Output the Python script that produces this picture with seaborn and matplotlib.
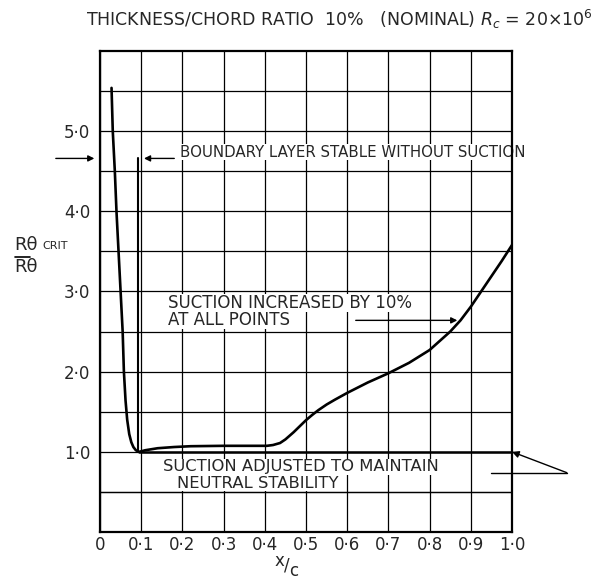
import matplotlib
matplotlib.use("Agg")
import matplotlib.pyplot as plt
import seaborn as sns
import pandas as pd

# ---- data ----
curve_x = [0.028, 0.031, 0.036, 0.040, 0.045, 0.050, 0.055, 0.058, 0.062, 0.066, 0.071, 0.076,
           0.081, 0.087, 0.095,
           0.11, 0.14, 0.18, 0.22, 0.30, 0.37, 0.405, 0.42, 0.437, 0.45, 0.47, 0.485, 0.50,
           0.515, 0.53, 0.55, 0.57, 0.60, 0.65, 0.70, 0.75, 0.80, 0.85, 0.875, 0.90, 0.925,
           0.95, 0.975, 1.00]
curve_y = [5.54, 5.0, 4.5, 4.0, 3.5, 3.0, 2.5, 2.0, 1.64, 1.40, 1.22, 1.12,
           1.06, 1.02, 1.00,
           1.02, 1.045, 1.06, 1.07, 1.075, 1.075, 1.075, 1.085, 1.11, 1.155, 1.245, 1.32, 1.395,
           1.46, 1.52, 1.59, 1.65, 1.735, 1.865, 1.98, 2.11, 2.27, 2.50, 2.64, 2.81, 3.00,
           3.19, 3.38, 3.58]
neutral_x = [0.095, 1.0]
neutral_y = [1.0, 1.0]
stable_x = [0.092, 0.092]
stable_y = [1.0, 4.66]

x_ticks = [0, 0.1, 0.2, 0.3, 0.4, 0.5, 0.6, 0.7, 0.8, 0.9, 1.0]
x_tick_labels = ["0", "0·1", "0·2", "0·3", "0·4", "0·5", "0·6", "0·7", "0·8", "0·9", "1·0"]
y_ticks = [1, 2, 3, 4, 5]
y_tick_labels = ["1·0", "2·0", "3·0", "4·0", "5·0"]

title = "THICKNESS/CHORD RATIO  10%   (NOMINAL) $R_c$ = 20×10$^6$"

sns.set_style("white")
plt.rcParams['font.family'] = ['DejaVu Sans']

fig = plt.figure(figsize=(5.95, 5.80), dpi=100)
ax = fig.add_axes([100/595, 1 - 532/580, 412/595, 481/580])

df = pd.DataFrame({"x": curve_x, "y": curve_y})
sns.lineplot(data=df, x="x", y="y", ax=ax, color="black", lw=1.9, sort=False, estimator=None, zorder=4)
sns.lineplot(x=neutral_x, y=neutral_y, ax=ax, color="black", lw=1.8, estimator=None, zorder=4)
sns.lineplot(x=stable_x, y=stable_y, ax=ax, color="black", lw=1.5, estimator=None, sort=False, zorder=4)

ax.set_xlim(0, 1.0)
ax.set_ylim(0, 6.0)
ax.set_xticks(x_ticks)
ax.set_xticklabels(x_tick_labels, fontsize=12)
ax.set_yticks(y_ticks)
ax.set_yticklabels(y_tick_labels, fontsize=12)
ax.set_yticks([i / 2 for i in range(1, 12, 2)], minor=True)
ax.grid(True, which="both", color="black", lw=0.9)
ax.set_axisbelow(True)
ax.tick_params(axis="x", which="both", length=0, pad=3)
ax.tick_params(axis="y", which="both", length=0, pad=7)
for s in ax.spines.values():
    s.set_color("black")
    s.set_linewidth(1.6)
ax.set_xlabel("")
ax.set_ylabel("")
# keep the 0.5 grid line visible above the text boxes
ax.axhline(0.5, color="black", lw=0.9, zorder=3)


def px(x, y):
    return x / 595, 1 - y / 580


# x-label  (x/c)
fig.text(*px(279, 561), "x", fontsize=12, ha="center", va="center")
fig.text(*px(287, 566), "/", fontsize=12, ha="center", va="center")
fig.text(*px(294, 571), "c", fontsize=12, ha="center", va="center")

# y-label
fig.text(*px(14, 245), "Rθ", fontsize=13, ha="left", va="center")
fig.text(*px(42, 246), "CRIT", fontsize=8, ha="left", va="center")
fig.text(*px(14, 267), "Rθ", fontsize=13, ha="left", va="center")
fig.add_artist(plt.Line2D([15/595, 30/595], [1 - 257/580, 1 - 257/580], color="black", lw=1.2))

# title
fig.text(*px(593, 19), title, fontsize=12.5, ha="right", va="center")

# annotations
box = dict(facecolor="white", edgecolor="none", pad=0.3)


def axtext(x, y, s, size):
    ax.text(x / 595, 1 - y / 580, s, fontsize=size, ha="left", va="center", bbox=box,
            transform=fig.transFigure, zorder=2.5)


axtext(180, 152, "BOUNDARY LAYER STABLE WITHOUT SUCTION", 10.8)
ax.annotate("", xy=(-0.007, 4.66), xytext=(-0.114, 4.66),
            arrowprops=dict(arrowstyle="-|>", color="black", lw=1.0, mutation_scale=9),
            annotation_clip=False)
ax.annotate("", xy=(0.1, 4.66), xytext=(0.187, 4.66),
            arrowprops=dict(arrowstyle="-|>", color="black", lw=1.0, mutation_scale=9),
            annotation_clip=False)

axtext(168, 303, "SUCTION INCREASED BY 10%", 12)
axtext(168, 320, "AT ALL POINTS", 12)
ax.annotate("", xy=(0.874, 2.64), xytext=(0.614, 2.64),
            arrowprops=dict(arrowstyle="-|>", color="black", lw=1.0, mutation_scale=9))

axtext(163, 467, "SUCTION ADJUSTED TO MAINTAIN", 11.8)
axtext(177, 483, "NEUTRAL STABILITY", 11.8)
ax.plot([0.95, 1.133], [0.74, 0.74], color="black", lw=1.0, clip_on=False)
ax.annotate("", xy=(1.0, 1.0), xytext=(1.133, 0.74),
            arrowprops=dict(arrowstyle="-|>", color="black", lw=1.0, mutation_scale=10, shrinkA=0, shrinkB=0),
            annotation_clip=False)

fig.savefig("out.png", dpi=100)
